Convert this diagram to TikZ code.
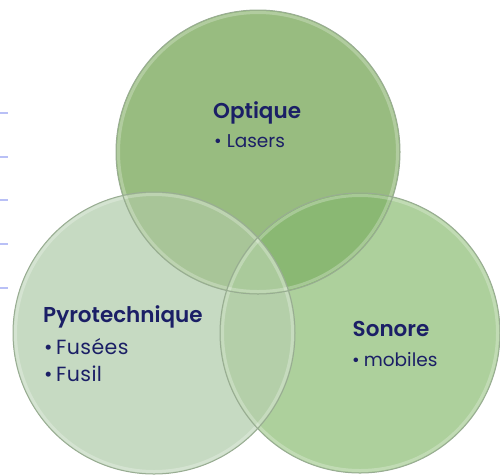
\documentclass[tikz,border=0pt]{standalone}
\usepackage{fontspec}
\setmainfont{Poppins}
\newfontfamily\titlefont{Poppins SemiBold}
\definecolor{txt}{HTML}{1B1F66}
\definecolor{optc}{HTML}{98BC80}
\definecolor{pyroc}{HTML}{C6DAC2}
\definecolor{sonc}{HTML}{ADD09C}
\definecolor{optsonc}{HTML}{8AB873}
\definecolor{optpyroc}{HTML}{A8C598}
\definecolor{pyrosonc}{HTML}{B4CFA9}
\definecolor{allc}{HTML}{AACA9B}
\definecolor{bordc}{HTML}{98AC92}
\definecolor{dashc}{HTML}{B9C0F6}

\begin{document}
\begin{tikzpicture}[x=1pt,y=-1pt,
  titre/.style={anchor=base west,inner sep=0pt,text=txt,font=\titlefont\fontsize{21.5}{26}\selectfont},
  puce/.style={anchor=base west,inner sep=0pt,text=txt,font=\fontsize{20.5}{25}\selectfont\addfontfeatures{LetterSpace=2}},
  petitepuce/.style={puce,font=\fontsize{18.5}{22}\selectfont},
  bord/.style={draw=bordc,line width=1pt},
  reflet/.style={draw=white,opacity=.25,line width=3pt}]
  \useasboundingbox (0,0) rectangle (500,475);
  \coordinate (copt) at (258,152);
  \coordinate (cpyro) at (154,333);
  \coordinate (cson) at (360,333);
  \foreach \y in {112.7,156.7,200,244,288}
    \draw[dashc,line width=2pt] (0,\y) -- (8,\y);
  \fill[optc] (copt) circle (142);
  \fill[sonc] (cson) circle (140);
  \fill[pyroc] (cpyro) circle (141);
  \begin{scope}
    \clip (cpyro) circle (141);
    \fill[pyrosonc] (cson) circle (140);
  \end{scope}
  \begin{scope}
    \clip (copt) circle (142);
    \fill[optsonc] (cson) circle (140);
    \fill[optpyroc] (cpyro) circle (141);
    \clip (cson) circle (140);
    \fill[allc] (cpyro) circle (141);
  \end{scope}
  \draw[reflet] (copt) circle (139.5);
  \draw[reflet] (cson) circle (137.5);
  \draw[reflet] (cpyro) circle (138.5);
  \draw[bord] (copt) circle (142);
  \draw[bord] (cson) circle (140);
  \draw[bord] (cpyro) circle (141);
  \node[titre] (optique) at (213,118) {Optique};
  \node[petitepuce] (lasers) at (214,147.5) {\textbullet\hspace{5pt}Lasers};
  \node[titre] (pyro) at (43,322.5) {Pyrotechnique};
  \node[puce] (fusees) at (44,354) {\textbullet\hspace{3.5pt}Fusées};
  \node[puce] (fusil) at (44,381) {\textbullet\hspace{3.5pt}Fusil};
  \node[titre] (sonore) at (352.5,336.5) {Sonore};
  \node[petitepuce] (mobiles) at (352,366.5) {\textbullet\hspace{4pt}mobiles};
\end{tikzpicture}
\end{document}
